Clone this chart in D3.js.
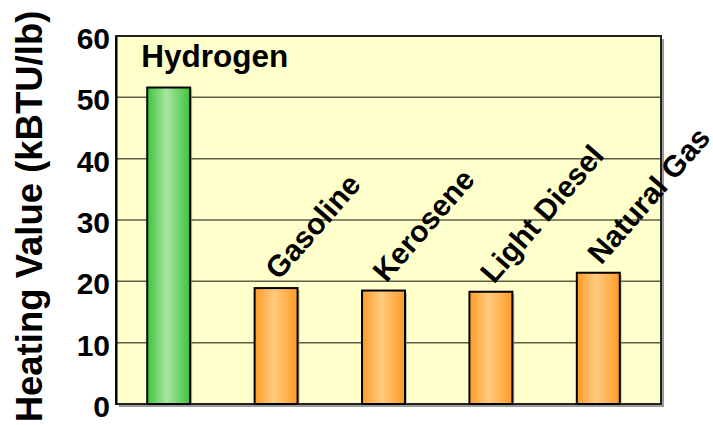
<!DOCTYPE html>
<html><head><meta charset="utf-8">
<script src="https://cdn.jsdelivr.net/npm/d3@7"></script>
<style>html,body{margin:0;padding:0;background:#fff;}svg{display:block;font-family:"Liberation Sans",Arial,Helvetica,sans-serif;}</style>
</head><body>
<svg id="chart" width="713" height="425"></svg>
<script>
const categories = ["Hydrogen", "Gasoline", "Kerosene", "Light Diesel", "Natural Gas"];
const values = [51.6, 18.9, 18.5, 18.3, 21.4];
const yTicks = [0, 10, 20, 30, 40, 50, 60];
const yTitle = "Heating Value (kBTU/lb)";

const svg = d3.select("#chart");
const L = 116, T = 36, R = 661, B = 404;

const y = d3.scaleLinear().domain([0, 60]).range([B, T]);
const x = d3.scaleBand().domain(categories).range([115, 652]).paddingInner(0.6).paddingOuter(0.3);

const defs = svg.append("defs");
function grad(id, edge, mid) {
  const g = defs.append("linearGradient").attr("id", id).attr("x1", "0").attr("x2", "1").attr("y1", "0").attr("y2", "0");
  g.append("stop").attr("offset", "0%").attr("stop-color", edge);
  g.append("stop").attr("offset", "45%").attr("stop-color", mid);
  g.append("stop").attr("offset", "100%").attr("stop-color", edge);
}
grad("gGreen", "#3dc43d", "#a8e6a0");
grad("gOrange", "#ff9a26", "#ffcc80");

// plot background + shadow
svg.append("rect").attr("x", L + 3).attr("y", T + 3).attr("width", R - L).attr("height", B - T).attr("fill", "#9a9a9a");
svg.append("rect").attr("x", L).attr("y", T).attr("width", R - L).attr("height", B - T).attr("fill", "#ffffcc");

// gridlines
svg.append("g").selectAll("line").data(yTicks.filter(t => t > 0 && t < 60)).join("line")
  .attr("x1", L).attr("x2", R).attr("y1", d => y(d)).attr("y2", d => y(d))
  .attr("stroke", "#5e5e4a").attr("stroke-width", 1.5);

// frame
svg.append("rect").attr("x", L).attr("y", T).attr("width", R - L).attr("height", B - T)
  .attr("fill", "none").attr("stroke", "#222").attr("stroke-width", 2);

// y axis
const yAxis = d3.axisLeft(y).tickValues(yTicks).tickSize(0).tickPadding(6);
const ya = svg.append("g").attr("transform", `translate(${L},0)`).call(yAxis);
ya.select(".domain").attr("stroke", "#000").attr("stroke-width", 2);
ya.selectAll("text").attr("font-size", 30).attr("font-weight", "bold").attr("fill", "#000")
  .attr("font-family", "'Liberation Sans', Arial, sans-serif").attr("dy", "0.42em");

// bars shadow
svg.append("g").selectAll("rect").data(categories).join("rect")
  .attr("x", d => x(d) + 2).attr("y", (d, i) => y(values[i]) + 2)
  .attr("width", x.bandwidth()).attr("height", (d, i) => B - y(values[i]) - 2)
  .attr("fill", "#888").attr("opacity", 0.5);
// bars
svg.append("g").selectAll("rect").data(categories).join("rect")
  .attr("x", d => x(d)).attr("y", (d, i) => y(values[i]))
  .attr("width", x.bandwidth()).attr("height", (d, i) => B - y(values[i]))
  .attr("fill", (d, i) => i === 0 ? "url(#gGreen)" : "url(#gOrange)")
  .attr("stroke", "#000").attr("stroke-width", 2);

// category labels
const lab = svg.append("g").attr("font-weight", "bold").attr("fill", "#000");
categories.forEach((c, i) => {
  if (i === 0) {
    lab.append("text").attr("x", x(c) - 6).attr("y", y(60) + 31)
      .attr("font-size", 31.5).text(c);
  } else {
    const cx = x(c) + x.bandwidth() / 2 + 3, cy = y(values[i]) - 7;
    lab.append("text").attr("transform", `translate(${cx},${cy}) rotate(-49)`)
      .attr("font-size", 30).text(c);
  }
});

// y title
svg.append("text").attr("transform", `translate(42,${(10 + 423) / 2}) rotate(-90)`)
  .attr("text-anchor", "middle").attr("font-size", 36.5).attr("font-weight", "bold").text(yTitle);
</script>
</body></html>
